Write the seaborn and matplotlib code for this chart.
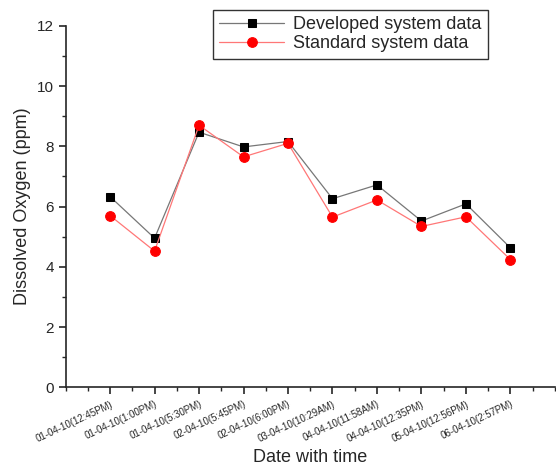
import pandas as pd
import matplotlib.pyplot as plt
import seaborn as sns
from matplotlib.ticker import MultipleLocator

labels_tempo = ['01-04-10(12:45PM)', '01-04-10(1:00PM)', '01-04-10(5:30PM)',
                '02-04-10(5:45PM)', '02-04-10(6:00PM)', '03-04-10(10:29AM)',
                '04-04-10(11:58AM)', '04-04-10(12:35PM)', '05-04-10(12:56PM)',
                '06-04-10(2:57PM)']
developed = [6.33, 4.95, 8.47, 7.98, 8.16, 6.26, 6.72, 5.52, 6.09, 4.63]
standard = [5.70, 4.52, 8.70, 7.65, 8.10, 5.65, 6.22, 5.34, 5.66, 4.24]

pos = list(range(1, len(labels_tempo) + 1))
df = pd.DataFrame({'pos': pos, 'developed': developed, 'standard': standard})

sns.set_style('ticks')
plt.rcParams['font.family'] = ['Liberation Sans', 'DejaVu Sans']

fig = plt.figure(figsize=(5.56, 4.70), dpi=100)
ax = fig.add_axes([0.118, 0.176, 0.88, 0.769])

sns.lineplot(data=df, x='pos', y='developed', ax=ax, color='#777777', lw=0.9,
             marker='s', markersize=6, markerfacecolor='black',
             markeredgecolor='black', label='Developed system data')
sns.lineplot(data=df, x='pos', y='standard', ax=ax, color='#ff7777', lw=0.9,
             marker='o', markersize=7, markerfacecolor='red',
             markeredgecolor='red', label='Standard system data')

ax.set_xlim(0, 11)
ax.set_ylim(0, 12)
ax.set_xticks(pos)
ax.set_xticklabels(labels_tempo, rotation=25, ha='right', fontsize=7,
                   rotation_mode='anchor')
ax.xaxis.set_minor_locator(MultipleLocator(0.5))
ax.set_yticks(range(0, 13, 2))
ax.yaxis.set_minor_locator(MultipleLocator(1))
ax.tick_params(axis='both', which='major', direction='out', length=5, width=1.2,
               labelsize=11)
ax.tick_params(axis='x', which='major', labelsize=7)
ax.tick_params(axis='both', which='minor', direction='out', length=3, width=1)
sns.despine(ax=ax)
for s in ['left', 'bottom']:
    ax.spines[s].set_linewidth(1.2)

ax.set_xlabel('Date with time', fontsize=13)
ax.set_ylabel('Dissolved Oxygen (ppm)', fontsize=13)

ax.legend_.remove()
h, l = ax.get_legend_handles_labels()
leg = fig.legend(h, l, loc='upper left', bbox_to_anchor=(213 / 556, 1 - 10 / 470),
                 fontsize=13, frameon=True, fancybox=False, borderpad=0.35,
                 handlelength=3.6, handletextpad=0.5, labelspacing=0.12,
                 borderaxespad=0)
leg.get_frame().set_edgecolor('black')
leg.get_frame().set_linewidth(1)

fig.savefig('out.png', dpi=100)
